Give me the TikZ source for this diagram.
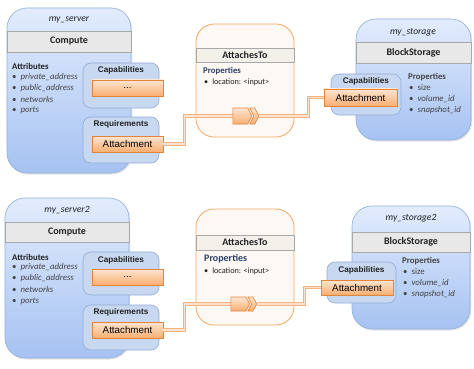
\documentclass[tikz,border=0pt]{standalone}
\usepackage{fontspec}
\setmainfont{Carlito}
\newfontfamily\arialf{Liberation Sans}
\usetikzlibrary{fit,shadows}
\definecolor{bluetop}{HTML}{E2ECFD}
\definecolor{bluebot}{HTML}{A6C2F2}
\definecolor{blueedge}{HTML}{8FAEDD}
\definecolor{bandgray}{HTML}{E8E8E8}
\definecolor{grayedge}{HTML}{A8A8A8}
\definecolor{capfill}{HTML}{C8D8F0}
\definecolor{capedge}{HTML}{92ACD6}
\definecolor{ortop}{HTML}{FDE6D2}
\definecolor{orbot}{HTML}{F8AE70}
\definecolor{oredge}{HTML}{E3843A}
\definecolor{relfill}{HTML}{FDF8F3}
\definecolor{reledge}{HTML}{F2A865}
\definecolor{hdrfill}{HTML}{F3EFE9}
\definecolor{connedge}{HTML}{F5B27E}
\definecolor{connfill}{HTML}{FCE3CD}
\definecolor{navy}{HTML}{2B3F66}
\definecolor{txt}{HTML}{222222}
\tikzset{
  bluebox/.style={rounded corners=20pt, draw=blueedge, line width=0.6pt, top color=bluetop, bottom color=bluebot, inner sep=0pt,
    drop shadow={opacity=0.22, shadow xshift=1.2pt, shadow yshift=-1.5pt}},
  band/.style={draw=grayedge, line width=0.5pt, fill=bandgray, inner sep=0pt, text=txt, font=\bfseries\fontsize{10}{12}\selectfont},
  capbox/.style={rounded corners=8pt, draw=capedge, line width=0.6pt, fill=capfill, inner sep=0pt},
  orbox/.style={draw=oredge, line width=0.6pt, top color=ortop, bottom color=orbot, inner sep=0pt,
    drop shadow={opacity=0.25, shadow xshift=1pt, shadow yshift=-1pt}, font=\arialf\fontsize{9.8}{11}\selectfont},
  relbox/.style={rounded corners=18pt, draw=reledge, line width=0.8pt, fill=relfill, inner sep=0pt},
  hdr/.style={draw=grayedge, line width=0.5pt, fill=hdrfill, inner sep=0pt, text=txt, font=\bfseries\fontsize{10}{12}\selectfont},
  conn/.style={line width=0.9pt, draw=connedge, double=connfill, double distance=1.4pt},
  titletxt/.style={text=txt, font=\itshape\fontsize{9.6}{11}\selectfont},
  secttl/.style={text=txt, font=\arialf\bfseries\fontsize{8.2}{9}\selectfont},
  attrhead/.style={anchor=west, inner sep=0pt, text=txt, font=\bfseries\fontsize{8.8}{10}\selectfont},
  item/.style={anchor=west, inner sep=0pt, text=txt!85, font=\fontsize{8.8}{10}\selectfont},
  chev/.style={draw=oredge, line width=0.6pt, top color=ortop, bottom color=orbot},
  hole/.style={inner sep=0pt, draw=none}
}
\begin{document}
\begin{tikzpicture}[x=1pt,y=-1pt]
\useasboundingbox (0,0) rectangle (474,369);
\fill[white] (0,0) rectangle (474,369);

% ================= TOP =================
\node[bluebox, fit={(7,8)(131,173)}] (srv1) {};
\node[titletxt] (srv1t) at (69,20) {my\_server};
\node[band, minimum width=124pt, minimum height=21pt] (srv1b) at (69,41.5) {Compute};
\node[attrhead] (srv1a) at (12,66) {Attributes};
\node[item] (srv1i1) at (12,77) {•\hspace{4pt}\textit{private\_address}};
\node[item] (srv1i2) at (12,88) {•\hspace{4pt}\textit{public\_address}};
\node[item] (srv1i3) at (12,99) {•\hspace{4pt}\textit{networks}};
\node[item] (srv1i4) at (12,110) {•\hspace{4pt}\textit{ports}};
\node[capbox, fit={(83,63)(159,108)}] (cap1) {};
\node[secttl] (cap1t) at (121,70.5) {Capabilities};
\node[capbox, fit={(83,117)(159,163)}] (req1) {};
\node[secttl] (req1t) at (121,124.5) {Requirements};

\node[relbox, fit={(196,24)(294,137)}] (rel1) {};
\node[hdr, minimum width=98pt, minimum height=14pt] (rel1h) at (245,55) {AttachesTo};
\node[anchor=west, inner sep=0pt, text=navy, font=\bfseries\fontsize{8.8}{10}\selectfont] (rel1p) at (203,71) {Properties};
\node[anchor=west, inner sep=0pt, text=txt, font=\fontsize{8.2}{10}\selectfont] (rel1l) at (204,82) {•\hspace{4pt}location: <input>};

\node[bluebox, fit={(356,19)(471,140)}] (sto1) {};
\node[titletxt] (sto1t) at (413,32) {my\_storage};
\node[band, minimum width=115pt, minimum height=21pt] (sto1b) at (413.5,52.5) {BlockStorage};
\node[attrhead, text=txt!85] (sto1p) at (408,77) {Properties};
\node[item] (sto1i1) at (409,88) {•\hspace{4pt}size};
\node[item] (sto1i2) at (409,99) {•\hspace{4pt}\textit{volume\_id}};
\node[item] (sto1i3) at (409,110) {•\hspace{4pt}\textit{snapshot\_id}};
\node[capbox, fit={(331,74)(401,115)}] (scap1) {};
\node[secttl] (scap1t) at (366,81.5) {Capabilities};

\node[orbox, minimum width=71pt, minimum height=16pt] (dots1) at (127.5,88) {...};
\node[orbox, minimum width=71pt, minimum height=16pt] (att1) at (127.5,144) {Attachment};
\node[orbox, minimum width=73pt, minimum height=17pt] (satt1) at (360.5,97.5) {Attachment};
\node[hole, fit={(233,108)(259,124)}] (ch1) {};
\draw[conn] (att1.east) -- ++(21,0) |- (ch1.west);
\draw[conn] (ch1.east) -- ++(49,0) |- (satt1.west);
\begin{scope}[shift={(ch1.west)}]
  \path[chev] (0,-8) -- (15,-8) -- (19,0) -- (15,8) -- (0,8) -- cycle;
  \path[chev] (17,-8) -- (22,-8) -- (26,0) -- (22,8) -- (17,8) -- (21,0) -- cycle;
\end{scope}

% ================= BOTTOM =================
\node[bluebox, fit={(5,198)(129,358)}] (srv2) {};
\node[titletxt] (srv2t) at (67,210) {my\_server2};
\node[band, minimum width=124pt, minimum height=20pt] (srv2b) at (67,232) {Compute};
\node[attrhead] (srv2a) at (12,257) {Attributes};
\node[item] (srv2i1) at (12,267) {•\hspace{4pt}\textit{private\_address}};
\node[item] (srv2i2) at (12,278) {•\hspace{4pt}\textit{public\_address}};
\node[item] (srv2i3) at (12,289) {•\hspace{4pt}\textit{networks}};
\node[item] (srv2i4) at (12,301) {•\hspace{4pt}\textit{ports}};
\node[capbox, fit={(83,252)(159,295)}] (cap2) {};
\node[secttl] (cap2t) at (121,260) {Capabilities};
\node[capbox, fit={(83,305)(159,350)}] (req2) {};
\node[secttl] (req2t) at (121,312.5) {Requirements};

\node[relbox, fit={(196,209)(294,325)}] (rel2) {};
\node[hdr, minimum width=98pt, minimum height=15pt] (rel2h) at (245,242.5) {AttachesTo};
\node[anchor=west, inner sep=0pt, text=navy, font=\bfseries\fontsize{10}{12}\selectfont] (rel2p) at (204,259) {Properties};
\node[anchor=west, inner sep=0pt, text=txt, font=\fontsize{8.2}{10}\selectfont] (rel2l) at (204,271) {•\hspace{4pt}location: <input>};

\node[bluebox, fit={(352,206)(470,329)}] (sto2) {};
\node[titletxt] (sto2t) at (411,218) {my\_storage2};
\node[band, minimum width=118pt, minimum height=20pt] (sto2b) at (411,242) {BlockStorage};
\node[attrhead, text=txt!85] (sto2p) at (402,261) {Properties};
\node[item] (sto2i1) at (403,272) {•\hspace{4pt}size};
\node[item] (sto2i2) at (403,283) {•\hspace{4pt}\textit{volume\_id}};
\node[item] (sto2i3) at (403,294) {•\hspace{4pt}\textit{snapshot\_id}};
\node[capbox, fit={(327,262)(396,303)}] (scap2) {};
\node[secttl] (scap2t) at (361.5,270) {Capabilities};

\node[orbox, minimum width=71pt, minimum height=16pt] (dots2) at (127.5,277) {...};
\node[orbox, minimum width=71pt, minimum height=16pt] (att2) at (127.5,330) {Attachment};
\node[orbox, minimum width=72pt, minimum height=15pt] (satt2) at (357,287.5) {Attachment};
\node[hole, fit={(231,297)(257,311)}] (ch2) {};
\draw[conn] (att2.east) -- ++(21,0) |- (ch2.west);
\draw[conn] (ch2.east) -- ++(47,0) |- (satt2.west);
\begin{scope}[shift={(ch2.west)}]
  \path[chev] (0,-7) -- (15,-7) -- (19,0) -- (15,7) -- (0,7) -- cycle;
  \path[chev] (17,-7) -- (22,-7) -- (26,0) -- (22,7) -- (17,7) -- (21,0) -- cycle;
\end{scope}
\end{tikzpicture}
\end{document}
